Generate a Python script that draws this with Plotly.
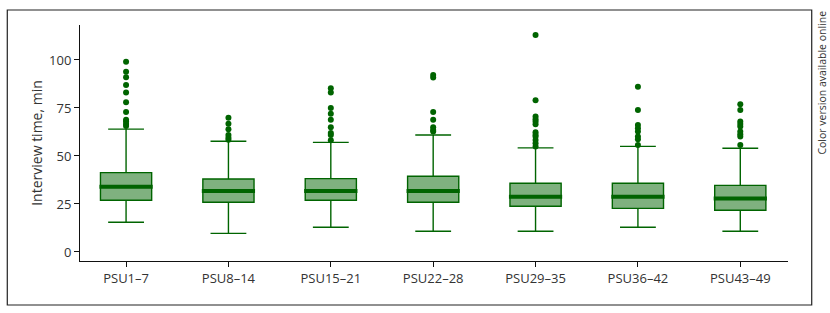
import plotly.graph_objects as go

categories = ["PSU1–7", "PSU8–14", "PSU15–21", "PSU22–28", "PSU29–35", "PSU36–42", "PSU43–49"]
q1 = [26.9, 25.9, 26.9, 25.9, 23.8, 22.7, 21.7]
median = [34.0, 31.8, 31.8, 31.8, 28.8, 28.8, 27.8]
q3 = [41.3, 38.0, 38.2, 39.4, 35.8, 35.8, 34.7]
lower_whisker = [15.5, 9.7, 12.9, 10.8, 10.8, 12.9, 10.8]
upper_whisker = [64.0, 57.7, 57.1, 60.9, 54.2, 55.0, 54.0]

out_psu1_7 = [99.0, 93.9, 91.0, 87.0, 83.0, 78.0, 72.9, 68.9, 67.9, 66.7, 65.6]
out_psu8_14 = [69.9, 66.8, 63.9, 60.9, 59.5, 58.5]
out_psu15_21 = [85.2, 83.0, 75.0, 72.0, 68.9, 64.9, 62.0, 60.9, 58.2]
out_psu22_28 = [92.2, 90.8, 72.9, 68.9, 64.9, 63.5, 62.7]
out_psu29_35 = [113.0, 79.0, 70.5, 69.1, 67.9, 66.5, 62.3, 61.0, 60.1, 58.3, 56.6, 54.9]
out_psu36_42 = [86.1, 74.0, 66.1, 64.4, 62.7, 60.1, 58.7, 55.7]
out_psu43_49 = [76.9, 74.0, 67.9, 66.7, 65.3, 62.7, 61.3, 60.1, 55.7]
outliers = [out_psu1_7, out_psu8_14, out_psu15_21, out_psu22_28, out_psu29_35, out_psu36_42, out_psu43_49]

y_ticks = [0, 25, 50, 75, 100]

GREEN = "#006400"
FILL = "rgba(0,100,0,0.5)"

out_x, out_y = [], []
for c, vals in zip(categories, outliers):
    out_x += [c] * len(vals)
    out_y += vals

fig = go.Figure()
fig.add_trace(go.Box(
    x=categories, q1=q1, median=median, q3=q3,
    lowerfence=lower_whisker, upperfence=upper_whisker,
    boxpoints=False, fillcolor=FILL, line=dict(color=GREEN, width=1.4),
    width=0.5, whiskerwidth=0.7, hoverinfo="skip", showlegend=False))
fig.add_trace(go.Box(
    x=categories, q1=median, median=median, q3=median,
    lowerfence=median, upperfence=median,
    boxpoints=False, fillcolor="rgba(0,0,0,0)", line=dict(color=GREEN, width=4),
    width=0.52, whiskerwidth=0.1, hoverinfo="skip", showlegend=False))
fig.add_trace(go.Scatter(
    x=out_x, y=out_y, mode="markers",
    marker=dict(color=GREEN, size=6), hoverinfo="skip", showlegend=False))

fig.update_layout(
    width=830, height=313,
    margin=dict(l=80, r=42, t=25, b=52),
    paper_bgcolor="white", plot_bgcolor="white",
    font=dict(family="Open Sans", size=12, color="#333333"),
    xaxis=dict(type="category", range=[-0.45, 6.466], showline=True, linecolor="#111",
               linewidth=1, ticks="outside", ticklen=5, tickcolor="#111",
               showgrid=False, zeroline=False, tickfont=dict(size=13)),
    yaxis=dict(range=[-4.7, 118.2], tickvals=y_ticks, showline=True, linecolor="#111",
               linewidth=1, ticks="outside", ticklen=5, tickcolor="#111",
               showgrid=False, zeroline=False, tickfont=dict(size=13),
               title=dict(text="Interview time, min", standoff=3)),
    shapes=[dict(type="rect", xref="paper", yref="paper",
                 x0=-0.1027, x1=1.0335, y0=-0.1864, y1=1.0636,
                 line=dict(color="#222", width=1.2))],
    annotations=[dict(text="Color version available online", xref="paper", yref="paper",
                      x=1.048, y=0.756, xanchor="center", yanchor="middle",
                      textangle=-90, showarrow=False,
                      font=dict(size=10.5, color="#333333"))],
)

fig.write_html("out.html", post_script="document.body.style.margin='0';",
               config={"displayModeBar": False})
